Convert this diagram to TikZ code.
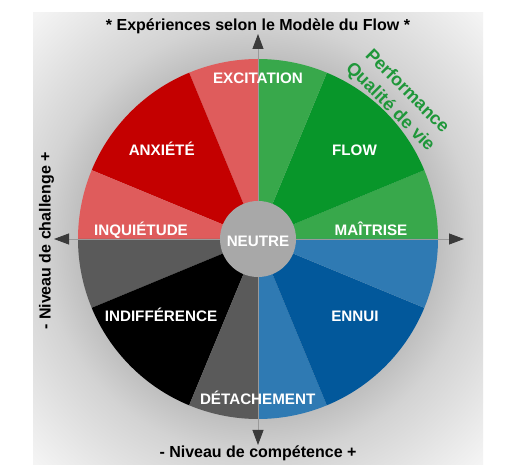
\documentclass[tikz,border=0pt]{standalone}
\usepackage{fontspec}
\setmainfont{Liberation Sans}
\usetikzlibrary{arrows.meta}
\definecolor{lred}{HTML}{DF5C5C}
\definecolor{dred}{HTML}{C40000}
\definecolor{lgreen}{HTML}{38A84B}
\definecolor{dgreen}{HTML}{08962A}
\definecolor{lblue}{HTML}{2F7AB3}
\definecolor{dblue}{HTML}{02589B}
\definecolor{dgray}{HTML}{5A5A5A}
\definecolor{vblack}{HTML}{000000}
\definecolor{neutral}{HTML}{A8A8A8}
\definecolor{perfgreen}{HTML}{1F973A}
\definecolor{axisgray}{HTML}{9A9A9A}
\definecolor{tipgray}{HTML}{3A3A3A}
\definecolor{glowin}{HTML}{BFBFBF}
\definecolor{glowmid}{HTML}{D3D3D3}
\definecolor{glowout}{HTML}{F4F4F4}
\pgfdeclareradialshading{bgglow}{\pgfpoint{0bp}{0bp}}{color(0bp)=(glowin); color(20bp)=(glowin); color(24bp)=(glowmid); color(35bp)=(glowout); color(50bp)=(glowout)}
\tikzset{
  wedgelbl/.style={text=white, inner sep=0pt, anchor=base, font=\fontsize{15.2}{18}\selectfont\bfseries},
  axislbl/.style={text=black, inner sep=0pt, anchor=base, font=\fontsize{16}{19}\selectfont\bfseries},
  perflbl/.style={text=perfgreen, inner sep=0pt, anchor=center, rotate=-45, font=\fontsize{18}{21}\selectfont\bfseries},
  axisline/.style={draw=axisgray, line width=0.8pt, {Triangle[length=15pt,width=11pt,color=tipgray]}-{Triangle[length=15pt,width=11pt,color=tipgray]}}
}
\newcommand{\flowwedge}[3]{\fill[#1] (C) -- ++(#2:180) arc[start angle=#2, end angle=#3, radius=180] -- cycle;}
\begin{document}
\begin{tikzpicture}[x=1pt,y=1pt]
\useasboundingbox (0,0) rectangle (525,474);
\fill[white] (0,0) rectangle (525,474);
\shade[shading=bgglow] (33,9) rectangle (483,461);
\coordinate (C) at (258,235);
% upper right
\flowwedge{lgreen}{0}{22.5}
\flowwedge{dgreen}{22.5}{67.5}
\flowwedge{lgreen}{67.5}{90}
% upper left
\flowwedge{lred}{90}{112.5}
\flowwedge{dred}{112.5}{157.5}
\flowwedge{lred}{157.5}{180}
% lower left
\flowwedge{dgray}{180}{202.5}
\flowwedge{vblack}{202.5}{247.5}
\flowwedge{dgray}{247.5}{270}
% lower right
\flowwedge{lblue}{270}{292.5}
\flowwedge{dblue}{292.5}{337.5}
\flowwedge{lblue}{337.5}{360}
% axes
\coordinate (N) at (258,440);
\coordinate (S) at (258,29);
\coordinate (W) at (54,235);
\coordinate (E) at (464,235);
\draw[axisline] (S) -- (N);
\draw[axisline] (W) -- (E);
% centre
\fill[neutral] (C) circle (38);
% labels
\node[wedgelbl] (excitation) at (258,390.7) {EXCITATION};
\node[wedgelbl] (anxiete) at (161.7,318) {ANXIÉTÉ};
\node[wedgelbl] (flow) at (354.5,318) {FLOW};
\node[wedgelbl] (inquietude) at (141,238) {INQUIÉTUDE};
\node[wedgelbl] (maitrise) at (371,238) {MAÎTRISE};
\node[wedgelbl] (neutre) at (258,227.3) {NEUTRE};
\node[wedgelbl] (indifference) at (161,152) {INDIFFÉRENCE};
\node[wedgelbl] (ennui) at (355,152) {ENNUI};
\node[wedgelbl] (detachement) at (257.7,69.7) {DÉTACHEMENT};
\node[axislbl] (title) at (258,443.3) {* Expériences selon le Modèle du Flow *};
\node[axislbl] (competence) at (258,16.7) {- Niveau de compétence +};
\node[axislbl, rotate=90] (challenge) at (50.7,233) {- Niveau de challenge +};
\node[perflbl] (performance) at (408,383.5) {Performance};
\node[perflbl] (qualite) at (390,367) {Qualité de vie};
\end{tikzpicture}
\end{document}
